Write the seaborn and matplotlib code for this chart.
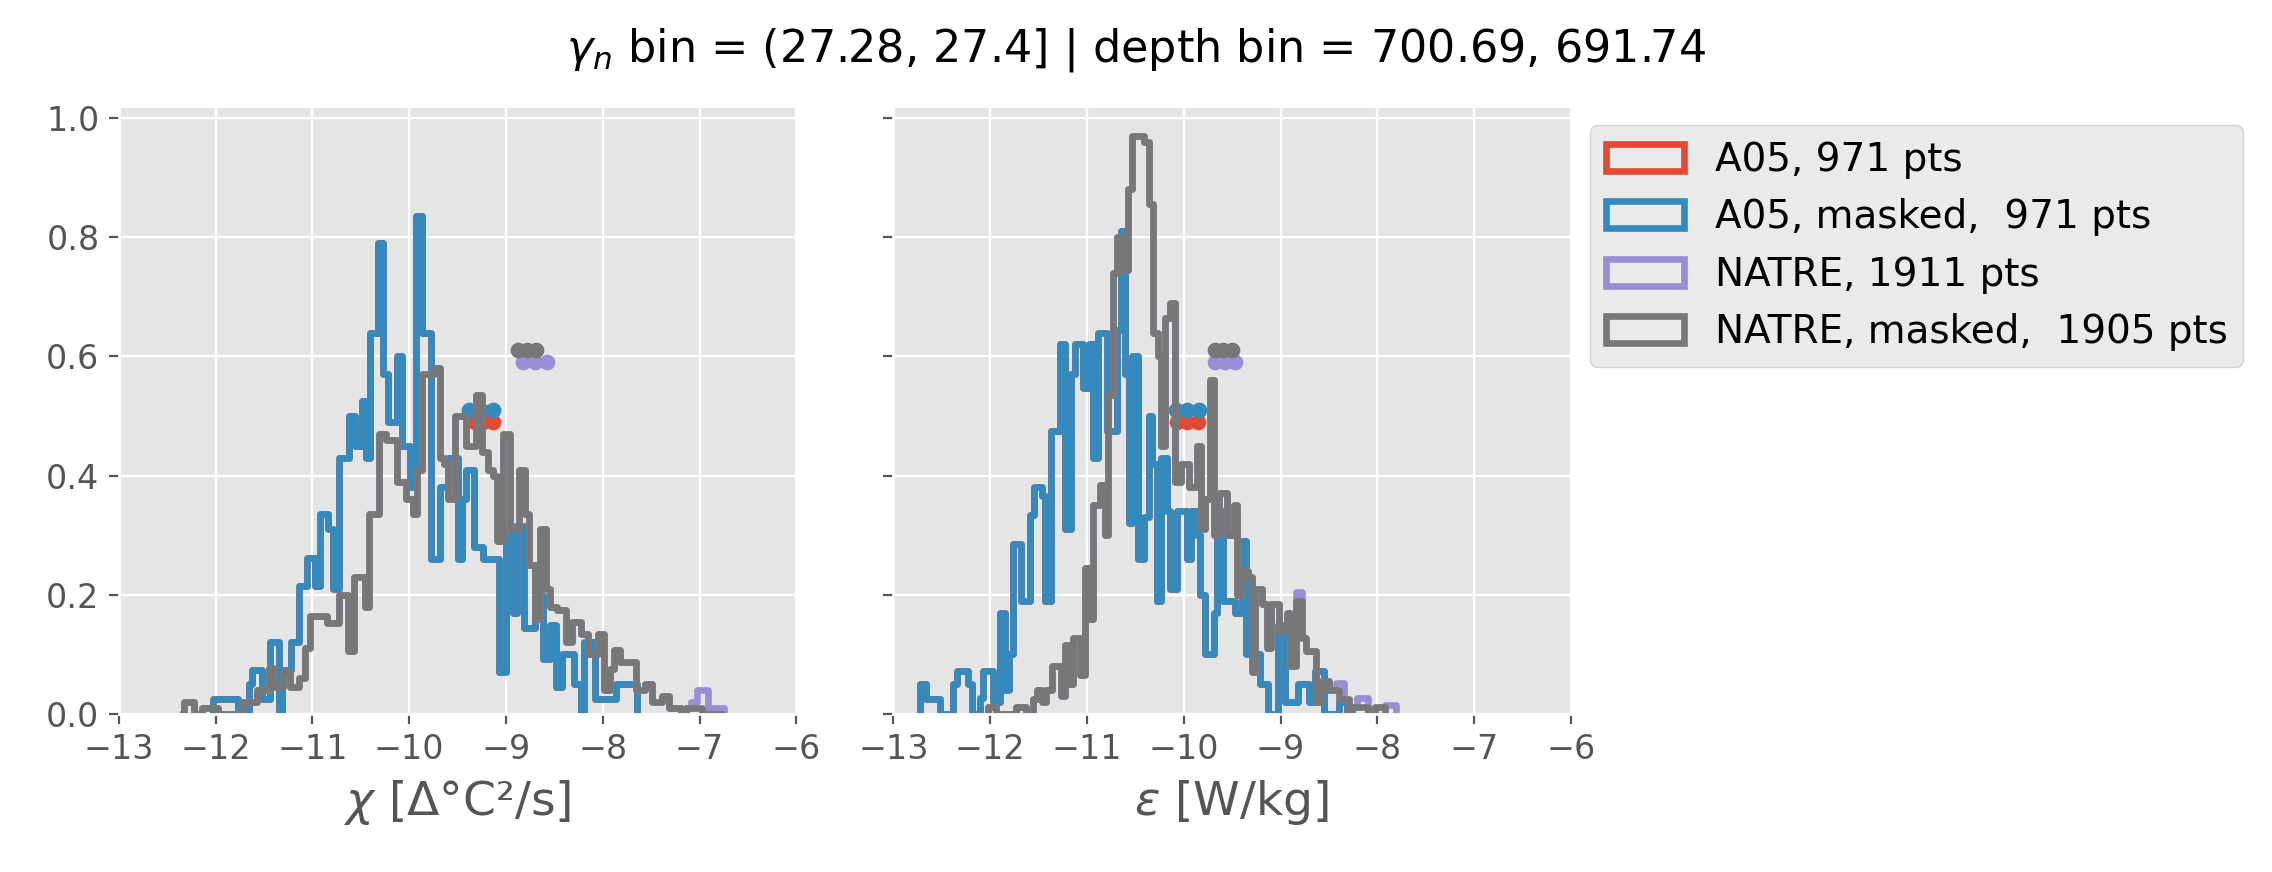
import numpy as np
import matplotlib
matplotlib.use("Agg")
import matplotlib.pyplot as plt
from matplotlib.patches import Patch
import seaborn as sns

plt.style.use("ggplot")

# ---- data (density per bin, bin edges in log10 units) ----
# chi panel
a05m_chi_edges = [-12.03, -11.77, -11.66, -11.62, -11.52, -11.44, -11.35, -11.31, -11.22, -11.14,
                  -11.06, -10.97, -10.92, -10.84, -10.79, -10.73, -10.62, -10.56, -10.49, -10.45,
                  -10.40, -10.32, -10.27, -10.22, -10.13, -10.07, -9.99, -9.93, -9.87, -9.77,
                  -9.68, -9.60, -9.50, -9.45, -9.41, -9.33, -9.24, -9.07, -9.00, -8.93,
                  -8.89, -8.81, -8.70, -8.62, -8.55, -8.48, -8.42, -8.30, -8.22, -8.19,
                  -8.08, -7.86, -7.65]
a05m_chi_heights = [0.025, 0.0, 0.05, 0.073, 0.025, 0.12, 0.0, 0.073, 0.12, 0.215,
                    0.262, 0.215, 0.335, 0.31, 0.21, 0.43, 0.50, 0.45, 0.525, 0.43,
                    0.64, 0.79, 0.57, 0.49, 0.60, 0.45, 0.38, 0.835, 0.64, 0.26,
                    0.38, 0.43, 0.26, 0.36, 0.41, 0.28, 0.26, 0.07, 0.315, 0.17,
                    0.315, 0.145, 0.20, 0.093, 0.15, 0.045, 0.10, 0.05, 0.0, 0.12,
                    0.025, 0.05]

natm_chi_edges = [-12.33, -12.22, -12.14, -11.98, -11.73, -11.57, -11.45, -11.41, -11.30, -11.23,
                  -11.14, -11.08, -11.02, -10.85, -10.73, -10.63, -10.57, -10.46, -10.41, -10.31,
                  -10.24, -10.13, -10.03, -9.96, -9.92, -9.87, -9.74, -9.68, -9.64, -9.60,
                  -9.53, -9.41, -9.31, -9.25, -9.19, -9.13, -9.09, -9.03, -8.96, -8.87,
                  -8.80, -8.76, -8.70, -8.65, -8.59, -8.54, -8.47, -8.38, -8.32, -8.22,
                  -8.15, -8.05, -7.99, -7.93, -7.88, -7.82, -7.66, -7.56, -7.49, -7.39,
                  -7.32, -7.19, -7.14, -6.97, -6.78]
natm_chi_heights = [0.02, 0.0, 0.01, 0.0, 0.02, 0.04, 0.078, 0.045, 0.07, 0.045,
                    0.06, 0.11, 0.165, 0.153, 0.20, 0.105, 0.23, 0.18, 0.335, 0.47,
                    0.46, 0.39, 0.36, 0.335, 0.41, 0.57, 0.58, 0.43, 0.42, 0.36,
                    0.50, 0.45, 0.535, 0.44, 0.41, 0.40, 0.29, 0.47, 0.31, 0.41,
                    0.335, 0.25, 0.16, 0.31, 0.21, 0.18, 0.175, 0.12, 0.155, 0.135,
                    0.10, 0.135, 0.04, 0.075, 0.107, 0.087, 0.04, 0.05, 0.02, 0.03,
                    0.01, 0.0, 0.01, 0.0]
# unmasked NATRE only differs from the masked one in the far tail
nat_chi_tail_start = -7.14
nat_chi_tail_edges = [-7.09, -7.03, -6.91, -6.86, -6.75]
nat_chi_tail_heights = [0.01, 0.02, 0.04, 0.0, 0.01]

# epsilon panel
a05m_eps_edges = [-12.72, -12.66, -12.52, -12.38, -12.34, -12.23, -12.19, -12.11, -12.07, -11.97,
                  -11.90, -11.85, -11.81, -11.76, -11.68, -11.59, -11.55, -11.46, -11.43, -11.37,
                  -11.28, -11.23, -11.16, -11.12, -11.04, -10.98, -10.94, -10.89, -10.79, -10.69,
                  -10.65, -10.61, -10.57, -10.53, -10.47, -10.41, -10.36, -10.33, -10.28, -10.23,
                  -10.17, -10.14, -10.07, -9.97, -9.93, -9.86, -9.83, -9.78, -9.69, -9.66,
                  -9.59, -9.47, -9.40, -9.36, -9.21, -9.13, -9.03, -8.95, -8.82, -8.71,
                  -8.64, -8.55, -8.40, -8.31]
a05m_eps_heights = [0.05, 0.025, 0.0, 0.05, 0.072, 0.05, 0.0, 0.026, 0.072, 0.02,
                    0.17, 0.04, 0.10, 0.285, 0.19, 0.334, 0.38, 0.366, 0.19, 0.475,
                    0.62, 0.31, 0.57, 0.62, 0.547, 0.62, 0.43, 0.64, 0.475, 0.645,
                    0.81, 0.57, 0.32, 0.60, 0.26, 0.33, 0.50, 0.42, 0.19, 0.43,
                    0.34, 0.21, 0.34, 0.26, 0.34, 0.30, 0.20, 0.10, 0.17, 0.34,
                    0.19, 0.17, 0.29, 0.10, 0.05, 0.0, 0.15, 0.02, 0.05, 0.02,
                    0.072, 0.0, 0.02]

natm_eps_edges = [-12.02, -11.94, -11.73, -11.63, -11.56, -11.52, -11.46, -11.42, -11.36, -11.27,
                  -11.23, -11.19, -11.14, -11.07, -11.02, -10.97, -10.94, -10.86, -10.81, -10.78,
                  -10.73, -10.69, -10.63, -10.58, -10.53, -10.41, -10.36, -10.32, -10.27, -10.24,
                  -10.19, -10.14, -10.09, -10.03, -9.95, -9.86, -9.82, -9.78, -9.73, -9.69,
                  -9.64, -9.55, -9.48, -9.45, -9.40, -9.34, -9.29, -9.26, -9.19, -9.14,
                  -9.10, -9.02, -8.93, -8.90, -8.84, -8.78, -8.74, -8.63, -8.58, -8.50,
                  -8.40, -8.29, -8.26, -8.10, -8.02, -7.92]
natm_eps_heights = [0.012, 0.0, 0.012, 0.0, 0.025, 0.04, 0.02, 0.04, 0.08, 0.03,
                    0.115, 0.05, 0.128, 0.065, 0.245, 0.16, 0.35, 0.385, 0.30, 0.535,
                    0.74, 0.80, 0.745, 0.88, 0.97, 0.96, 0.855, 0.64, 0.60, 0.45,
                    0.665, 0.69, 0.39, 0.42, 0.38, 0.45, 0.31, 0.36, 0.56, 0.30,
                    0.37, 0.30, 0.35, 0.20, 0.24, 0.23, 0.07, 0.21, 0.185, 0.11,
                    0.185, 0.14, 0.17, 0.08, 0.19, 0.128, 0.105, 0.02, 0.055, 0.04,
                    0.025, 0.0, 0.012, 0.0, 0.012]
nat_eps_tail_start = -8.84
nat_eps_tail_edges = [-8.78, -8.74, -8.63, -8.58, -8.50, -8.43, -8.34, -8.29, -8.26, -8.21,
                      -8.10, -8.02, -7.92, -7.81]
nat_eps_tail_heights = [0.205, 0.128, 0.105, 0.02, 0.055, 0.04, 0.052, 0.025, 0.0, 0.012,
                        0.027, 0.0, 0.012, 0.015]

# summary dots (three per dataset)
chi_dots = {"A05": [-9.32, -9.24, -9.13], "A05m": [-9.38, -9.26, -9.13],
            "NATRE": [-8.82, -8.70, -8.58], "NATREm": [-8.88, -8.78, -8.69]}
eps_dots = {"A05": [-10.07, -9.97, -9.85], "A05m": [-10.08, -9.97, -9.84],
            "NATRE": [-9.68, -9.57, -9.47], "NATREm": [-9.68, -9.59, -9.50]}
dot_levels = {"A05": 0.49, "A05m": 0.51, "NATRE": 0.59, "NATREm": 0.61}

labels = ["A05, 971 pts", "A05, masked,  971 pts", "NATRE, 1911 pts", "NATRE, masked,  1905 pts"]
keys = ["A05", "A05m", "NATRE", "NATREm"]
colors = ["#E24A33", "#348ABD", "#988ED5", "#777777"]


def with_tail(edges, heights, start, tail_edges, tail_heights):
    i = edges.index(start)
    return edges[:i + 1] + tail_edges, heights[:i] + tail_heights


nat_chi_edges, nat_chi_heights = with_tail(natm_chi_edges, natm_chi_heights, nat_chi_tail_start,
                                           nat_chi_tail_edges, nat_chi_tail_heights)
nat_eps_edges, nat_eps_heights = with_tail(natm_eps_edges, natm_eps_heights, nat_eps_tail_start,
                                           nat_eps_tail_edges, nat_eps_tail_heights)

chi_hists = {"A05": (a05m_chi_edges, a05m_chi_heights), "A05m": (a05m_chi_edges, a05m_chi_heights),
             "NATRE": (nat_chi_edges, nat_chi_heights), "NATREm": (natm_chi_edges, natm_chi_heights)}
eps_hists = {"A05": (a05m_eps_edges, a05m_eps_heights), "A05m": (a05m_eps_edges, a05m_eps_heights),
             "NATRE": (nat_eps_edges, nat_eps_heights), "NATREm": (natm_eps_edges, natm_eps_heights)}


def step_hist(ax, edges, heights, color):
    # pad with empty bins so the outline drops to zero at both ends
    edges = [edges[0] - 0.002] + list(edges) + [edges[-1] + 0.002]
    heights = [0.0] + list(heights) + [0.0]
    centers = [(a + b) / 2 for a, b in zip(edges[:-1], edges[1:])]
    sns.histplot(x=centers, weights=heights, bins=edges, stat="count", element="step",
                 fill=False, color=color, linewidth=2.4, ax=ax)


fig, axes = plt.subplots(1, 2, figsize=(11.36, 4.36), dpi=200, sharey=True)
fig.subplots_adjust(left=0.0523, right=0.6914, bottom=0.1812, top=0.8784, wspace=0.1433)

for ax, hists, dots in zip(axes, [chi_hists, eps_hists], [chi_dots, eps_dots]):
    for k, c in zip(keys, colors):
        e, h = hists[k]
        step_hist(ax, e, h, c)
        sns.scatterplot(x=dots[k], y=[dot_levels[k]] * len(dots[k]), color=c, s=32,
                        linewidth=0, ax=ax, legend=False)
    ax.set_xlim(-13, -6)
    ax.set_ylim(0, 1.02)
    ax.set_xticks(range(-13, -5))
    ax.set_ylabel("")
    ax.tick_params(labelsize=12)

axes[0].set_xlabel(r"$\chi$ [Δ°C²/s]", fontsize=17)
axes[1].set_xlabel(r"$\varepsilon$ [W/kg]", fontsize=17)
axes[0].set_yticks([0.0, 0.2, 0.4, 0.6, 0.8, 1.0])

handles = [Patch(facecolor="none", edgecolor=c, linewidth=2.4, label=l) for c, l in zip(colors, labels)]
axes[1].legend(handles=handles, loc="upper left", bbox_to_anchor=(1, 1), fontsize=14)

fig.suptitle(r"$\gamma_n$ bin = (27.28, 27.4] | depth bin = 700.69, 691.74", fontsize=16, y=0.97)

fig.savefig("out.png", dpi=200)
